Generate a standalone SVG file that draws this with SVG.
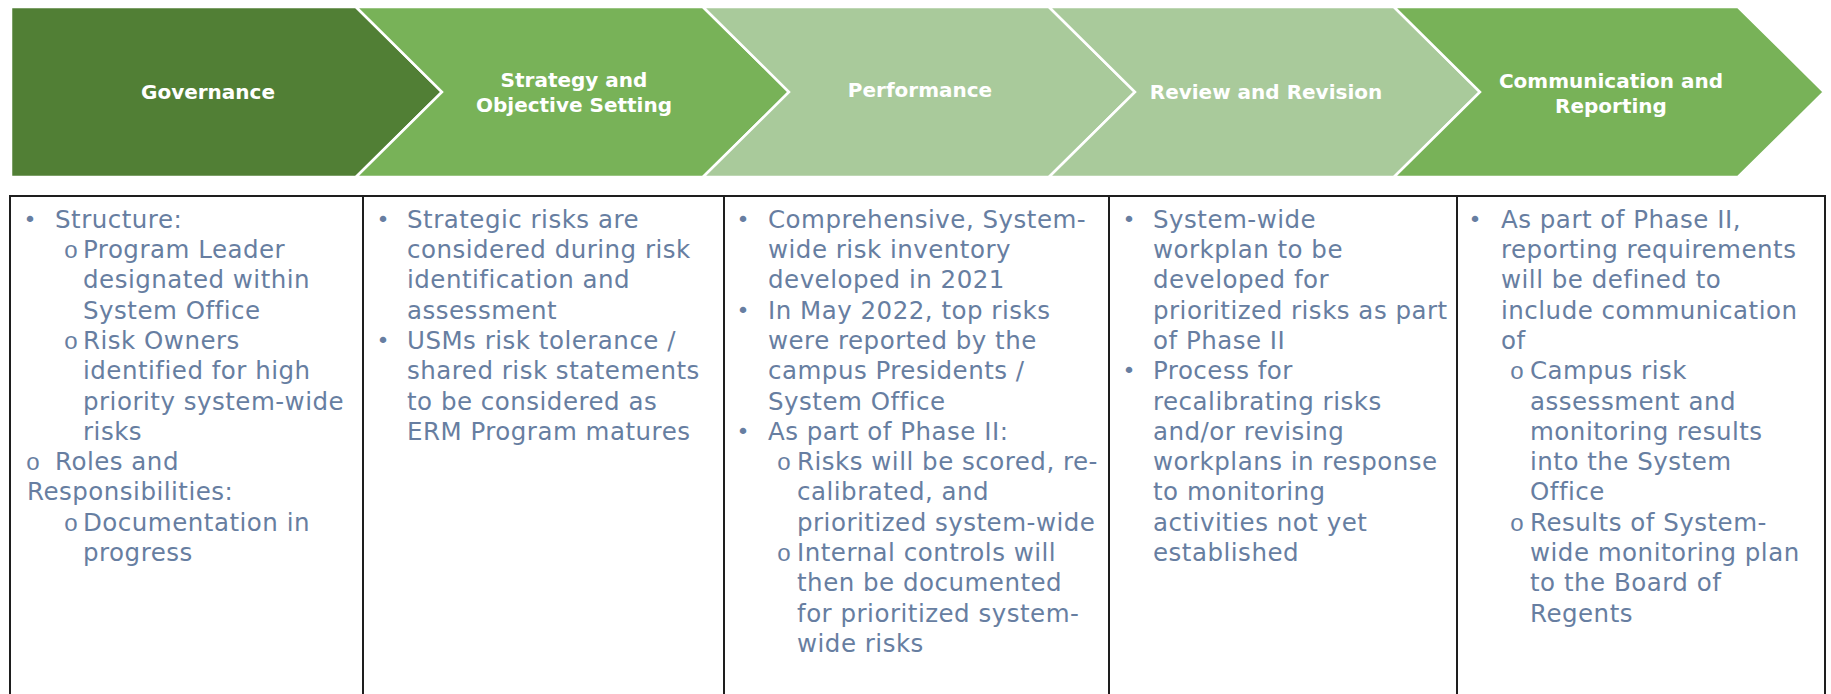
<svg xmlns="http://www.w3.org/2000/svg" width="1831" height="694" viewBox="0 0 1831 694">
  <style>
    .stage { stroke: #ffffff; stroke-width: 2.5; stroke-linejoin: miter; }
    .dark { fill: #517f35; }
    .mid { fill: #78b258; }
    .light { fill: #a9ca9b; }
    .head { font-family: "DejaVu Sans", "Liberation Sans", sans-serif; font-weight: bold; font-size: 20px; fill: #ffffff; text-anchor: middle; }
    .body { font-family: "DejaVu Sans", "Liberation Sans", sans-serif; font-size: 24.5px; letter-spacing: 0.5px; fill: #677ea1; }
    .dot { font-family: "DejaVu Sans", sans-serif; font-size: 22px; fill: #677ea1; text-anchor: middle; }
    .ring { font-family: "Liberation Mono", monospace; font-size: 24px; fill: #677ea1; text-anchor: middle; }
    .grid { stroke: #1e1e1e; stroke-width: 2; fill: none; }
  </style>

  <!-- Process stages -->
  <g id="stage-governance">
    <path class="stage dark" d="M11,7 L356,7 L442,92 L356,177 L11,177 Z"/>
    <text class="head" x="208" y="99">Governance</text>
  </g>
  <g id="stage-strategy">
    <path class="stage mid" d="M356,7 L703,7 L789,92 L703,177 L356,177 L442,92 Z"/>
    <text class="head" x="574" y="87">Strategy and</text>
    <text class="head" x="574" y="112">Objective Setting</text>
  </g>
  <g id="stage-performance">
    <path class="stage light" d="M703,7 L1049,7 L1135,92 L1049,177 L703,177 L789,92 Z"/>
    <text class="head" x="920" y="97">Performance</text>
  </g>
  <g id="stage-review">
    <path class="stage light" d="M1049,7 L1394,7 L1480,92 L1394,177 L1049,177 L1135,92 Z"/>
    <text class="head" x="1266" y="99">Review and Revision</text>
  </g>
  <g id="stage-communication">
    <path class="stage mid" d="M1394,7 L1738,7 L1824,92 L1738,177 L1394,177 L1480,92 Z"/>
    <text class="head" x="1611" y="88">Communication and</text>
    <text class="head" x="1611" y="113">Reporting</text>
  </g>

  <!-- Table grid -->
  <g id="grid">
    <line class="grid" x1="9" y1="196" x2="1826" y2="196"/>
    <line class="grid" x1="10" y1="195" x2="10" y2="694"/>
    <line class="grid" x1="363" y1="195" x2="363" y2="694"/>
    <line class="grid" x1="724" y1="195" x2="724" y2="694"/>
    <line class="grid" x1="1109" y1="195" x2="1109" y2="694"/>
    <line class="grid" x1="1457" y1="195" x2="1457" y2="694"/>
    <line class="grid" x1="1825" y1="195" x2="1825" y2="694"/>
  </g>

  <!-- Column: Governance -->
  <g id="col-governance">
    <text class="dot" x="30" y="227">•</text>
    <text class="ring" x="71" y="258">o</text>
    <text class="ring" x="71" y="349">o</text>
    <text class="ring" x="33" y="470">o</text>
    <text class="ring" x="71" y="531">o</text>
    <text class="body">
      <tspan x="55" y="228">Structure:</tspan>
      <tspan x="83" y="258">Program Leader</tspan>
      <tspan x="83" y="288">designated within</tspan>
      <tspan x="83" y="319">System Office</tspan>
      <tspan x="83" y="349">Risk Owners</tspan>
      <tspan x="83" y="379">identified for high</tspan>
      <tspan x="83" y="410">priority system-wide</tspan>
      <tspan x="83" y="440">risks</tspan>
      <tspan x="55" y="470">Roles and</tspan>
      <tspan x="27" y="500">Responsibilities:</tspan>
      <tspan x="83" y="531">Documentation in</tspan>
      <tspan x="83" y="561">progress</tspan>
    </text>
  </g>

  <!-- Column: Strategy and Objective Setting -->
  <g id="col-strategy">
    <text class="dot" x="383" y="227">•</text>
    <text class="dot" x="383" y="348">•</text>
    <text class="body">
      <tspan x="407" y="228">Strategic risks are</tspan>
      <tspan x="407" y="258">considered during risk</tspan>
      <tspan x="407" y="288">identification and</tspan>
      <tspan x="407" y="319">assessment</tspan>
      <tspan x="407" y="349">USMs risk tolerance /</tspan>
      <tspan x="407" y="379">shared risk statements</tspan>
      <tspan x="407" y="410">to be considered as</tspan>
      <tspan x="407" y="440">ERM Program matures</tspan>
    </text>
  </g>

  <!-- Column: Performance -->
  <g id="col-performance">
    <text class="dot" x="743" y="227">•</text>
    <text class="dot" x="743" y="318">•</text>
    <text class="dot" x="743" y="439">•</text>
    <text class="ring" x="784" y="470">o</text>
    <text class="ring" x="784" y="561">o</text>
    <text class="body">
      <tspan x="768" y="228">Comprehensive, System-</tspan>
      <tspan x="768" y="258">wide risk inventory</tspan>
      <tspan x="768" y="288">developed in 2021</tspan>
      <tspan x="768" y="319">In May 2022, top risks</tspan>
      <tspan x="768" y="349">were reported by the</tspan>
      <tspan x="768" y="379">campus Presidents /</tspan>
      <tspan x="768" y="410">System Office</tspan>
      <tspan x="768" y="440">As part of Phase II:</tspan>
      <tspan x="797" y="470">Risks will be scored, re-</tspan>
      <tspan x="797" y="500">calibrated, and</tspan>
      <tspan x="797" y="531">prioritized system-wide</tspan>
      <tspan x="797" y="561">Internal controls will</tspan>
      <tspan x="797" y="591">then be documented</tspan>
      <tspan x="797" y="622">for prioritized system-</tspan>
      <tspan x="797" y="652">wide risks</tspan>
    </text>
  </g>

  <!-- Column: Review and Revision -->
  <g id="col-review">
    <text class="dot" x="1129" y="227">•</text>
    <text class="dot" x="1129" y="378">•</text>
    <text class="body">
      <tspan x="1153" y="228">System-wide</tspan>
      <tspan x="1153" y="258">workplan to be</tspan>
      <tspan x="1153" y="288">developed for</tspan>
      <tspan x="1153" y="319">prioritized risks as part</tspan>
      <tspan x="1153" y="349">of Phase II</tspan>
      <tspan x="1153" y="379">Process for</tspan>
      <tspan x="1153" y="410">recalibrating risks</tspan>
      <tspan x="1153" y="440">and/or revising</tspan>
      <tspan x="1153" y="470">workplans in response</tspan>
      <tspan x="1153" y="500">to monitoring</tspan>
      <tspan x="1153" y="531">activities not yet</tspan>
      <tspan x="1153" y="561">established</tspan>
    </text>
  </g>

  <!-- Column: Communication and Reporting -->
  <g id="col-communication">
    <text class="dot" x="1475" y="227">•</text>
    <text class="ring" x="1517" y="379">o</text>
    <text class="ring" x="1517" y="531">o</text>
    <text class="body">
      <tspan x="1501" y="228">As part of Phase II,</tspan>
      <tspan x="1501" y="258">reporting requirements</tspan>
      <tspan x="1501" y="288">will be defined to</tspan>
      <tspan x="1501" y="319">include communication</tspan>
      <tspan x="1501" y="349">of</tspan>
      <tspan x="1530" y="379">Campus risk</tspan>
      <tspan x="1530" y="410">assessment and</tspan>
      <tspan x="1530" y="440">monitoring results</tspan>
      <tspan x="1530" y="470">into the System</tspan>
      <tspan x="1530" y="500">Office</tspan>
      <tspan x="1530" y="531">Results of System-</tspan>
      <tspan x="1530" y="561">wide monitoring plan</tspan>
      <tspan x="1530" y="591">to the Board of</tspan>
      <tspan x="1530" y="622">Regents</tspan>
    </text>
  </g>
</svg>
